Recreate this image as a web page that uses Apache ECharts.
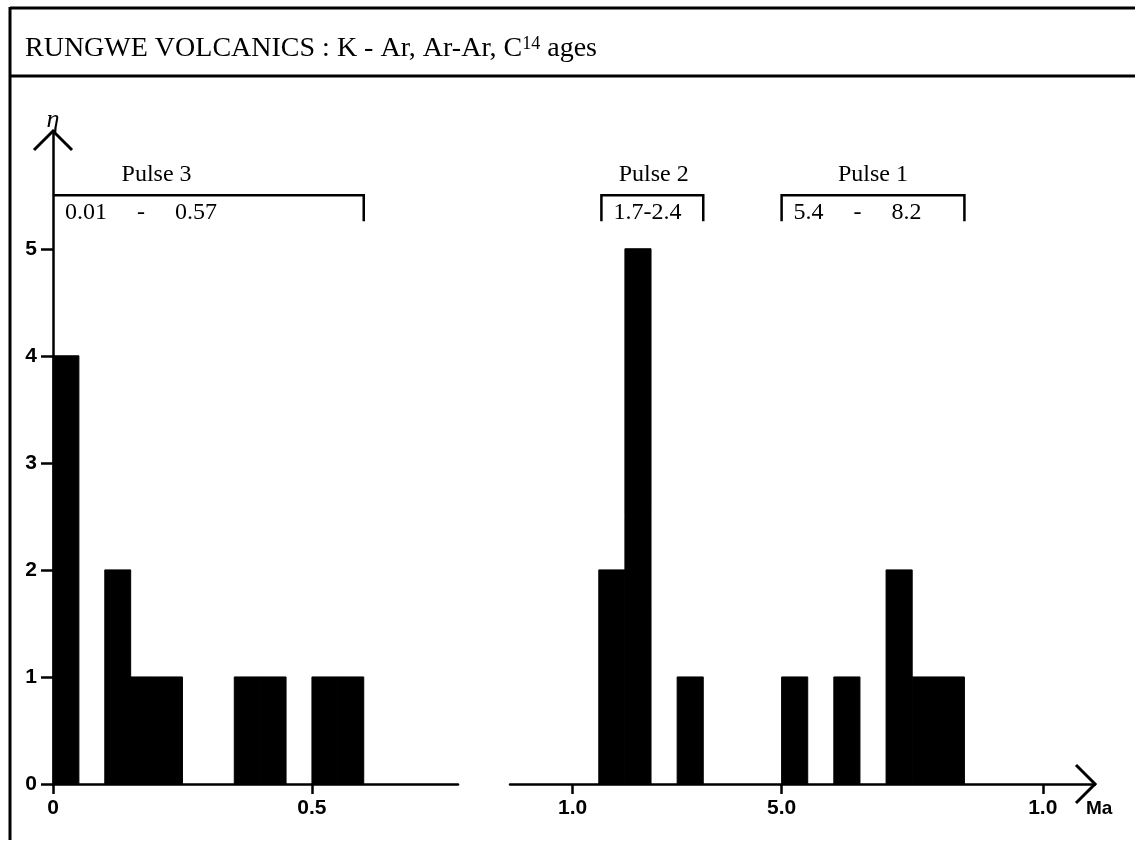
<!DOCTYPE html>
<html><head><meta charset="utf-8">
<script src="https://cdn.jsdelivr.net/npm/echarts@6/dist/echarts.min.js"></script>
<style>html,body{margin:0;padding:0;background:#fff}#c{width:1135px;height:843px}</style>
</head><body><div id="c"></div>
<script>
// ---- data ----
const leftBinStart  = [0.00, 0.10, 0.15, 0.20, 0.35, 0.40, 0.50, 0.55];
const leftBinEnd    = [0.05, 0.15, 0.20, 0.25, 0.40, 0.45, 0.55, 0.60];
const leftCounts    = [4, 2, 1, 1, 1, 1, 1, 1];
const rightBinStart = [1.5, 2.0, 3.0, 5.0, 6.0, 7.0, 7.5, 8.0];
const rightBinEnd   = [2.0, 2.5, 3.5, 5.5, 6.5, 7.5, 8.0, 8.5];
const rightCounts   = [2, 5, 1, 1, 1, 2, 1, 1];
const yTicks = [0, 1, 2, 3, 4, 5];
const xLeftTicks = [0, 0.5];
const xLeftTickLabels = ['0', '0.5'];
const xRightTicks = [1, 5, 10];
const xRightTickLabels = ['1.0', '5.0', '1.0'];
const pulseNames  = ['Pulse 3', 'Pulse 2', 'Pulse 1'];
const pulseRanges = ['0.01     -     0.57', '1.7-2.4', '5.4     -     8.2'];
const pulsePanel  = [0, 1, 1];
const pulseFrom   = [0, 1.55, 5.0];
const pulseTo     = [0.6, 3.5, 8.5];
const pulseLevel  = [5.5, 5.5, 5.5];
const pulseLabelAt = [0.2, 2.55, 6.75];
const pulseLeftDrop = [false, true, true];

// ---- chart ----
const chart = echarts.init(document.getElementById('c'), null, {renderer: 'canvas'});
const serif = '"Liberation Serif", "Times New Roman", serif';
const sans = '"Liberation Sans", Arial, sans-serif';
const axisFont = {color: '#000', fontFamily: sans, fontWeight: 'bold', fontSize: 21};
const lineStyle = {color: '#000', width: 2.5};
const yMax = 6.1;

function binData(s, e, c) { return s.map((v, i) => [v, e[i], c[i]]); }
function barRender(params, api) {
  const p0 = api.coord([api.value(0), 0]);
  const p1 = api.coord([api.value(1), api.value(2)]);
  return {type: 'rect', shape: {x: p0[0], y: p1[1], width: p1[0] - p0[0], height: p0[1] - p1[1]},
    style: {fill: '#000', stroke: '#000', lineWidth: 1}};
}
function pulseSeries(panel) {
  const idx = pulseNames.map((_, i) => i).filter(i => pulsePanel[i] === panel);
  return {
    type: 'custom', xAxisIndex: panel, yAxisIndex: panel, silent: true, clip: false, z: 5,
    data: idx.map(i => [pulseFrom[i], pulseTo[i], pulseLevel[i], pulseLabelAt[i], i]),
    renderItem(params, api) {
      const i = api.value(4);
      const a = api.coord([api.value(0), api.value(2)]);
      const b = api.coord([api.value(1), api.value(2)]);
      const lab = api.coord([api.value(3), api.value(2)]);
      const drop = 26;
      const pts = [];
      if (pulseLeftDrop[i]) pts.push([a[0], a[1] + drop]);
      pts.push([a[0], a[1]], [b[0], b[1]], [b[0], b[1] + drop]);
      return {type: 'group', children: [
        {type: 'polyline', shape: {points: pts}, style: {stroke: '#000', lineWidth: 2.5, fill: null}},
        {type: 'text', style: {text: pulseNames[i], x: lab[0], y: a[1] - 21, align: 'center', verticalAlign: 'middle',
          fill: '#000', fontFamily: serif, fontSize: 24}},
        {type: 'text', style: {text: pulseRanges[i], x: a[0] + 12, y: a[1] + 17, align: 'left', verticalAlign: 'middle',
          fill: '#000', fontFamily: serif, fontSize: 24}}
      ]};
    }
  };
}

const option = {
  backgroundColor: '#fff',
  animation: false,
  title: {
    left: 20, top: 30,
    text: '{a|RUNGWE VOLCANICS : K - Ar, Ar-Ar, C}{s|14}{a| ages}',
    textStyle: {fontWeight: 'normal', rich: {
      a: {fontFamily: serif, fontSize: 28, fontWeight: 'normal', color: '#000'},
      s: {fontFamily: serif, fontSize: 18, fontWeight: 'normal', color: '#000', verticalAlign: 'top'}
    }}
  },
  grid: [
    {left: 53, right: 1135 - 458, top: 131, bottom: 59},
    {left: 510, right: 1135 - 1095, top: 131, bottom: 59}
  ],
  xAxis: [
    {type: 'value', gridIndex: 0, min: 0, max: 0.782,
      axisLine: {show: true, lineStyle: lineStyle},
      axisTick: {show: true, length: 10, customValues: xLeftTicks, lineStyle: lineStyle},
      axisLabel: Object.assign({customValues: xLeftTicks, margin: 14,
        formatter: v => xLeftTickLabels[xLeftTicks.indexOf(v)]}, axisFont),
      splitLine: {show: false}},
    {type: 'value', gridIndex: 1, min: -0.2, max: 11.0,
      axisLine: {show: true, lineStyle: lineStyle},
      axisTick: {show: true, length: 10, customValues: xRightTicks, lineStyle: lineStyle},
      axisLabel: Object.assign({customValues: xRightTicks, margin: 14,
        formatter: v => xRightTickLabels[xRightTicks.indexOf(v)]}, axisFont),
      splitLine: {show: false},
      name: 'Ma', nameLocation: 'end', nameGap: -9,
      nameTextStyle: {color: '#000', fontFamily: sans, fontWeight: 'bold', fontSize: 19,
        align: 'left', verticalAlign: 'top', padding: [15, 0, 0, 0]}}
  ],
  yAxis: [
    {type: 'value', gridIndex: 0, min: 0, max: yMax,
      axisLine: {show: true, lineStyle: lineStyle},
      axisTick: {show: true, length: 12, customValues: yTicks, lineStyle: lineStyle},
      axisLabel: Object.assign({customValues: yTicks, margin: 16}, axisFont),
      splitLine: {show: false}},
    {type: 'value', gridIndex: 1, min: 0, max: yMax, show: false, splitLine: {show: false}}
  ],
  series: [
    {type: 'custom', xAxisIndex: 0, yAxisIndex: 0, renderItem: barRender, silent: true,
      encode: {x: [0, 1], y: 2}, data: binData(leftBinStart, leftBinEnd, leftCounts)},
    {type: 'custom', xAxisIndex: 1, yAxisIndex: 1, renderItem: barRender, silent: true,
      encode: {x: [0, 1], y: 2}, data: binData(rightBinStart, rightBinEnd, rightCounts)},
    pulseSeries(0),
    pulseSeries(1)
  ]
};
chart.setOption(option);

// decorations: frame, arrowheads, axis symbol
const yTop = chart.convertToPixel({xAxisIndex: 0, yAxisIndex: 0}, [0, yMax]);
const xEnd = chart.convertToPixel({xAxisIndex: 1, yAxisIndex: 1}, [11.0, 0]);
const arm = 19;
chart.setOption({graphic: [
  {type: 'line', shape: {x1: 10, y1: 8, x2: 1135, y2: 8}, style: {stroke: '#000', lineWidth: 3}},
  {type: 'line', shape: {x1: 10, y1: 76, x2: 1135, y2: 76}, style: {stroke: '#000', lineWidth: 3}},
  {type: 'line', shape: {x1: 10, y1: 7, x2: 10, y2: 840}, style: {stroke: '#000', lineWidth: 3}},
  {type: 'polyline', shape: {points: [[yTop[0] - arm, yTop[1] + arm], [yTop[0], yTop[1]], [yTop[0] + arm, yTop[1] + arm]]},
    style: {stroke: '#000', lineWidth: 3, fill: null}},
  {type: 'polyline', shape: {points: [[xEnd[0] - arm, xEnd[1] - arm], [xEnd[0], xEnd[1]], [xEnd[0] - arm, xEnd[1] + arm]]},
    style: {stroke: '#000', lineWidth: 3, fill: null}},
  {type: 'text', style: {text: 'η', x: yTop[0], y: yTop[1] - 11, align: 'center', verticalAlign: 'middle',
    fill: '#000', fontFamily: serif, fontStyle: 'italic', fontSize: 26}}
]});
</script>
</body></html>
